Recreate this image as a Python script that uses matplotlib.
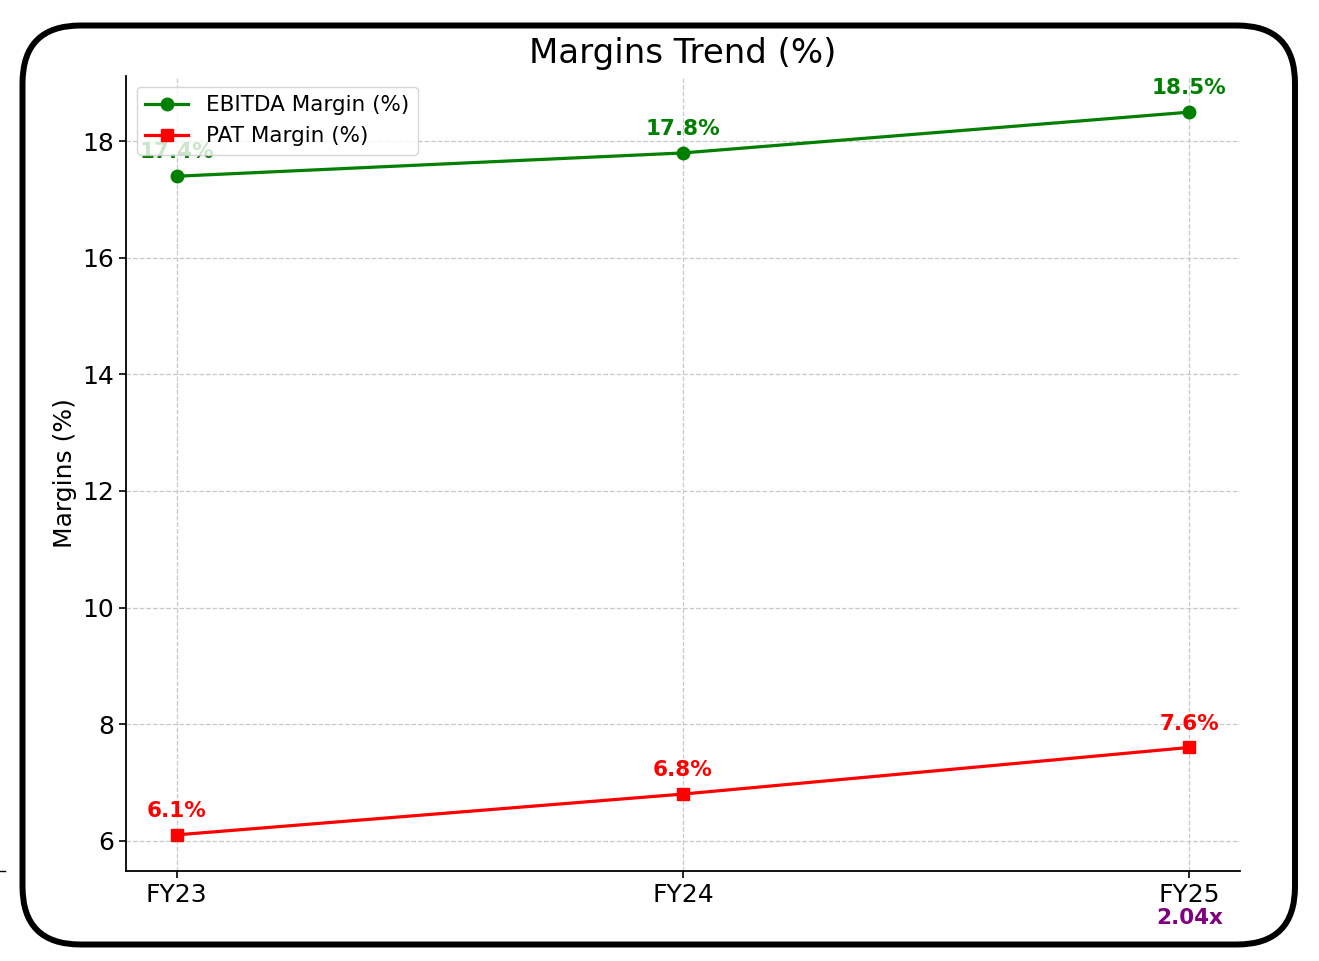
import matplotlib
matplotlib.use('Agg')
import matplotlib.pyplot as plt
import matplotlib.patches as mpatches
from matplotlib.lines import Line2D

years = ['FY23', 'FY24', 'FY25']
ebitda_margin = [17.4, 17.8, 18.5]
pat_margin = [6.1, 6.8, 7.6]
growth_note = '2.04x'

plt.rcParams['font.family'] = ['DejaVu Sans']

fig = plt.figure(figsize=(13.19, 9.61), dpi=100)
ax = fig.add_axes([126 / 1319, 90 / 961, (1240 - 126) / 1319, (871 - 76) / 961])

x = list(range(len(years)))
ax.plot(x, ebitda_margin, color='green', marker='o', lw=2.3, ms=9, label='EBITDA Margin (%)')
ax.plot(x, pat_margin, color='red', marker='s', lw=2.3, ms=9, label='PAT Margin (%)')

for xi, v in zip(x, ebitda_margin):
    ax.annotate(f'{v}%', (xi, v), xytext=(0, 10), textcoords='offset points',
                ha='center', va='bottom', color='green', fontsize=15.5, fontweight='bold')
for xi, v in zip(x, pat_margin):
    ax.annotate(f'{v}%', (xi, v), xytext=(0, 10), textcoords='offset points',
                ha='center', va='bottom', color='red', fontsize=15.5, fontweight='bold')

ax.annotate(growth_note, (x[-1], 0), xycoords=('data', 'axes fraction'),
            xytext=(0, -27), textcoords='offset points', ha='center', va='top',
            color='purple', fontsize=15.5, fontweight='bold')

ax.set_xticks(x)
ax.set_xticklabels(years)
ax.tick_params(labelsize=18, width=1.2, length=5)
ax.set_ylabel('Margins (%)', fontsize=18)
ax.set_title('Margins Trend (%)', fontsize=24.5, pad=9)
ax.grid(True, linestyle='--', color='#c8c8c8', lw=0.9)
ax.spines['top'].set_visible(False)
ax.spines['right'].set_visible(False)
for s in ['left', 'bottom']:
    ax.spines[s].set_linewidth(1.3)
ax.legend(loc='upper left', fontsize=15.5, framealpha=0.8)

# rounded outer frame (display pixel coords)
frame = mpatches.FancyBboxPatch((22.5, 16.5), 1295 - 22.5, 935.5 - 16.5,
                                boxstyle='round,pad=0,rounding_size=58',
                                fill=False, ec='black', lw=4.3, transform=None)
fig.add_artist(frame)
fig.add_artist(Line2D([0, 5], [90, 90], color='black', lw=1, transform=None))

fig.savefig('out.png', dpi=100)
